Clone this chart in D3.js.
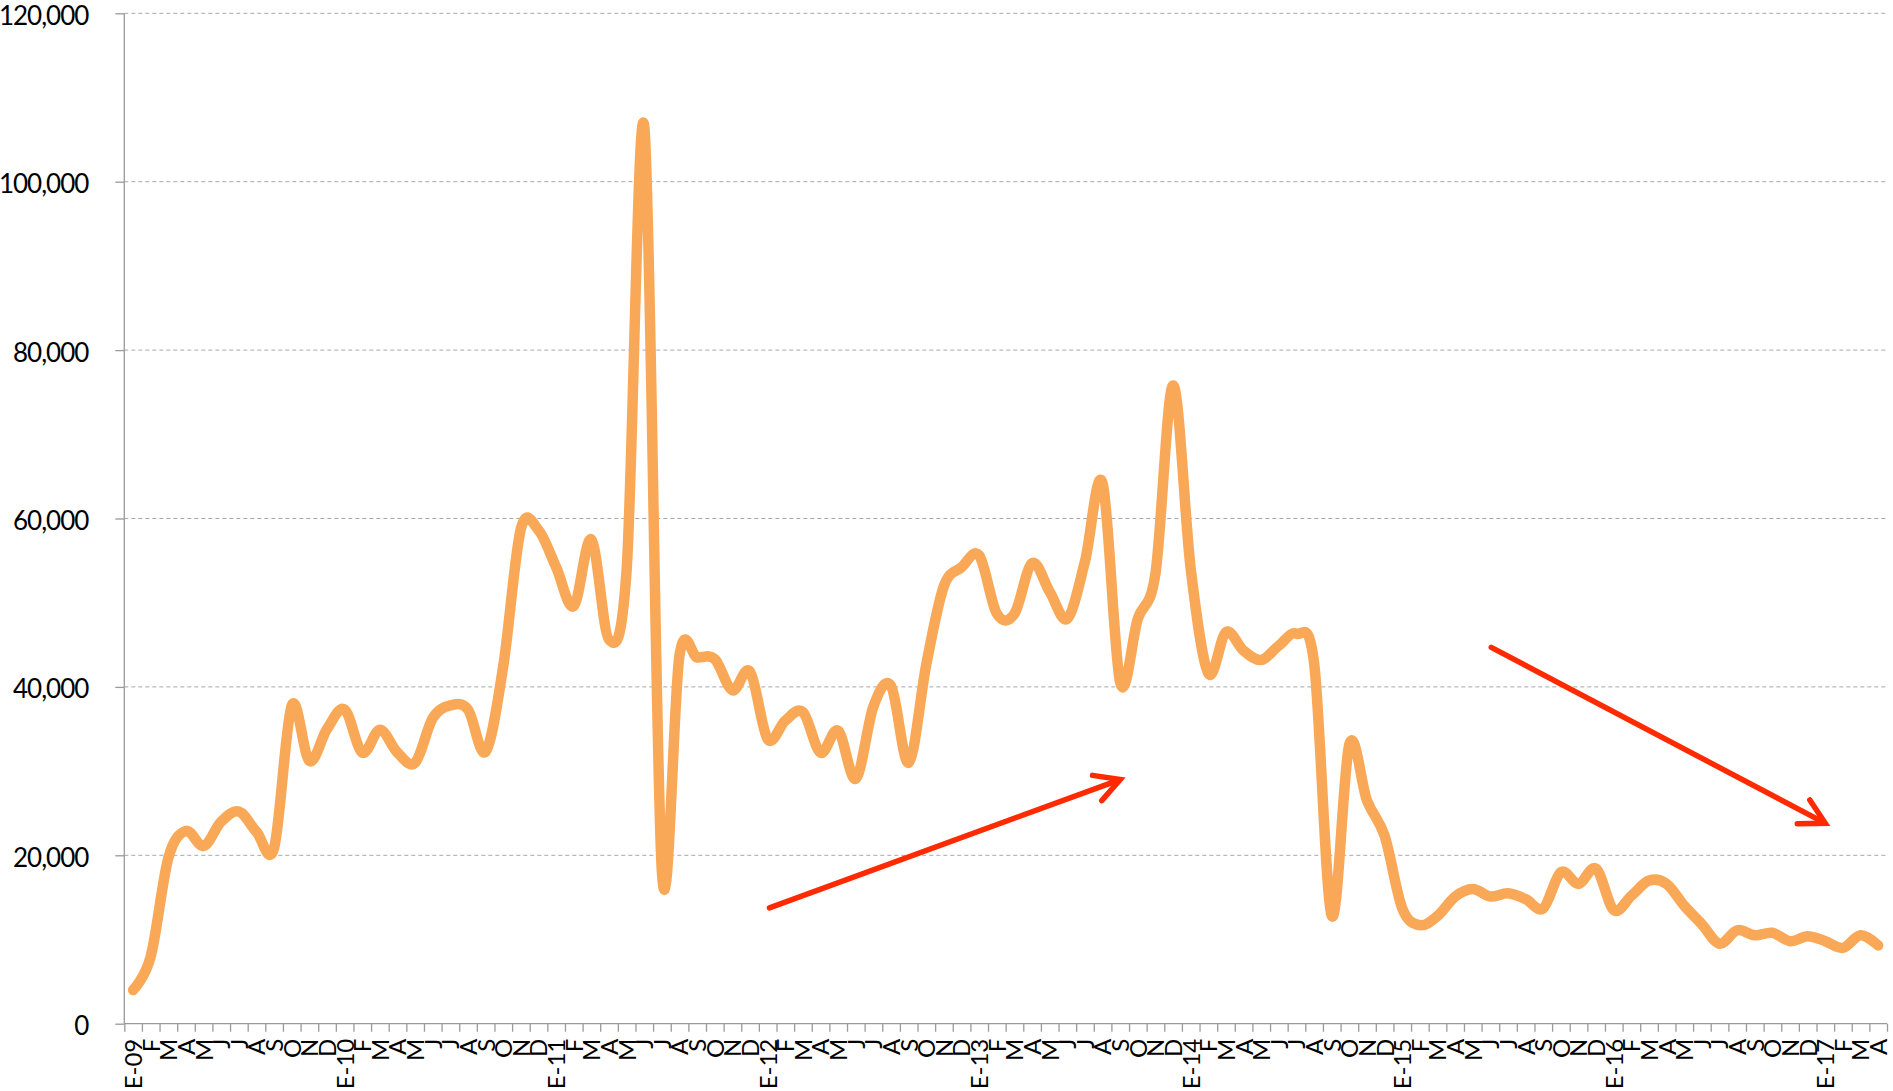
<!DOCTYPE html>
<html>
<head>
<meta charset="utf-8">
<script src="https://cdn.jsdelivr.net/npm/d3@7"></script>
<style>
  body { margin: 0; background: #fff; }
  svg { display: block; }
  text { font-family: Lato, "Open Sans", sans-serif; fill: #000; }
</style>
</head>
<body>
<svg width="1893" height="1091"></svg>
<script>
// month initials (Spanish) and years for the x labels
const monthLetters = ["E", "F", "M", "A", "M", "J", "J", "A", "S", "O", "N", "D"];
const years = ["09", "10", "11", "12", "13", "14", "15", "16", "17"];

// monthly values, one array per year
const v2009 = [4000, 8000, 19700, 22900, 21100, 24000, 25200, 22800, 20900, 37800, 31200, 35000];
const v2010 = [37300, 32200, 34900, 32200, 31000, 36300, 37800, 37300, 32300, 42500, 58800, 58600];
const v2011 = [54200, 49600, 57500, 45600, 54000, 106500, 18000, 43800, 43500, 43300, 39600, 41800];
const v2012 = [33800, 36000, 37000, 32200, 34800, 29100, 37700, 40100, 31000, 42700, 52000, 54200];
const v2013 = [55600, 48700, 48700, 54700, 51300, 48100, 54900, 64200, 40500, 48100, 53500, 75800];
const v2014 = [54000, 41600, 46500, 44300, 43200, 44900, 46300, 42800, 12800, 33200, 26500, 22300];
const v2015 = [13700, 11700, 12800, 15100, 16000, 15100, 15500, 14800, 13700, 18000, 16600, 18400];
const v2016 = [13500, 15200, 17000, 16600, 14000, 11800, 9500, 11100, 10500, 10800, 9800, 10400];
const v2017 = [9800, 9000, 10500, 9300];

const yTicks = [0, 20000, 40000, 60000, 80000, 100000, 120000];

// trend arrows: [month index, value] from -> to
const upArrow = [[36.1, 13750], [56.0, 29000]];
const downArrow = [[77.05, 44700], [96.0, 23800]];

const values = [].concat(v2009, v2010, v2011, v2012, v2013, v2014, v2015, v2016, v2017);
const labels = values.map((v, i) => {
  const m = i % 12;
  return m === 0 ? "E-" + years[Math.floor(i / 12)] : monthLetters[m];
});

const svg = d3.select("svg");
const plotLeft = 124.3, plotRight = 1887, plotTop = 13.3, plotBottom = 1023.7;

const x = d3.scaleBand().domain(d3.range(values.length)).range([plotLeft, plotRight]).paddingInner(0).paddingOuter(0);
const xLin = d3.scaleLinear().domain([0, values.length]).range([plotLeft, plotRight]);
const y = d3.scaleLinear().domain([0, 120000]).range([plotBottom, plotTop]);

// gridlines
svg.append("g")
  .selectAll("line")
  .data(yTicks.filter(d => d > 0))
  .join("line")
  .attr("x1", plotLeft).attr("x2", plotRight)
  .attr("y1", d => y(d)).attr("y2", d => y(d))
  .attr("stroke", "#a8a8a8")
  .attr("stroke-width", 1)
  .attr("stroke-dasharray", "4,3");

// y axis
const yAxis = svg.append("g")
  .attr("transform", `translate(${plotLeft},0)`)
  .call(d3.axisLeft(y).tickValues(yTicks).tickFormat(d3.format(",")).tickSize(9).tickPadding(27));
yAxis.selectAll("path, line").attr("stroke", "#9a9a9a").attr("stroke-width", 1.3);
yAxis.select(".domain").attr("d", `M0,${plotBottom}V${plotTop}`);
yAxis.selectAll("text")
  .attr("dy", "0.42em")
  .style("font-size", "26px")
  .style("letter-spacing", "-1px")
  .style("font-family", "Lato, sans-serif");

// x axis tick marks between months
const xTicks = svg.append("g")
  .attr("transform", `translate(0,${plotBottom})`)
  .call(d3.axisBottom(xLin).tickValues(d3.range(values.length + 1)).tickSize(8).tickFormat(""));
xTicks.selectAll("path, line").attr("stroke", "#9a9a9a").attr("stroke-width", 1.3);
xTicks.select(".domain").attr("d", `M${plotLeft},0H${plotRight}`);

// x labels
const xLabels = svg.append("g")
  .attr("transform", `translate(0,${plotBottom})`)
  .call(d3.axisBottom(x).tickSize(0).tickFormat(i => labels[i]));
xLabels.select(".domain").remove();
xLabels.selectAll("text")
  .attr("transform", "rotate(-90)")
  .attr("x", -15)
  .attr("y", 0)
  .attr("dy", "0.37em")
  .style("text-anchor", "end")
  .style("font-size", "24px")
  .style("font-family", "Lato, sans-serif");

// the series line
const line = d3.line()
  .x((d, i) => x(i) + x.bandwidth() / 2)
  .y(d => y(d))
  .curve(d3.curveCardinal.tension(0));

svg.append("path")
  .datum(values)
  .attr("d", line)
  .attr("fill", "none")
  .attr("stroke", "#f9a857")
  .attr("stroke-width", 10.5)
  .attr("stroke-linecap", "round")
  .attr("stroke-linejoin", "round");

// trend arrows
function drawArrow(a) {
  const x1 = xLin(a[0][0] + 0.5), y1 = y(a[0][1]);
  const x2 = xLin(a[1][0] + 0.5), y2 = y(a[1][1]);
  const ang = Math.atan2(y2 - y1, x2 - x1);
  const head = 28, spread = 0.5;
  const g = svg.append("g")
    .attr("stroke", "#ff2a00")
    .attr("stroke-width", 5.5)
    .attr("stroke-linecap", "round")
    .attr("fill", "none");
  g.append("line").attr("x1", x1).attr("y1", y1).attr("x2", x2 - 3 * Math.cos(ang)).attr("y2", y2 - 3 * Math.sin(ang));
  g.append("path")
    .attr("stroke-linejoin", "miter")
    .attr("d", d3.line()([
      [x2 - head * Math.cos(ang - spread), y2 - head * Math.sin(ang - spread)],
      [x2, y2],
      [x2 - head * Math.cos(ang + spread), y2 - head * Math.sin(ang + spread)]
    ]));
}
drawArrow(upArrow);
drawArrow(downArrow);
</script>
</body>
</html>
